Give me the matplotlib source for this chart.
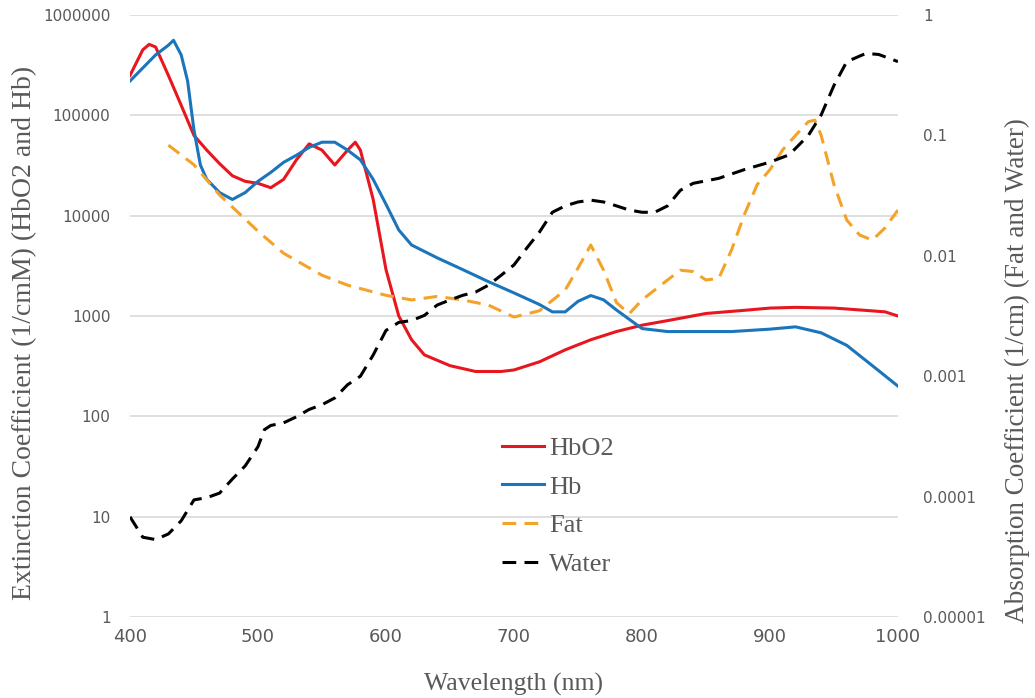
import numpy as np
import matplotlib.pyplot as plt
from matplotlib.ticker import FixedLocator, FixedFormatter

# wavelength (nm) and extinction coefficients
wl_hbo2 = [400, 410, 415, 420, 430, 440, 450, 460, 470, 480, 490, 500, 510, 520, 530, 540, 550,
           560, 570, 576, 580, 590, 600, 610, 620, 630, 650, 670, 690, 700, 720, 740, 760, 780,
           800, 820, 850, 880, 900, 920, 950, 970, 990, 1000]
hbo2 = [2.5e5, 4.5e5, 5.1e5, 4.8e5, 2.5e5, 1.26e5, 6.3e4, 4.5e4, 3.3e4, 2.5e4, 2.2e4, 2.1e4,
        1.9e4, 2.3e4, 3.6e4, 5.2e4, 4.5e4, 3.2e4, 4.5e4, 5.4e4, 4.5e4, 1.45e4, 2.9e3, 1.0e3,
        580, 410, 320, 280, 280, 290, 350, 460, 580, 700, 810, 900, 1060, 1140, 1200, 1220,
        1200, 1150, 1100, 1000]

wl_hb = [400, 420, 430, 434, 440, 445, 450, 455, 460, 470, 480, 490, 500, 510, 520, 530, 540,
         550, 560, 570, 580, 590, 600, 610, 620, 640, 660, 680, 700, 720, 730, 740, 750, 760,
         770, 780, 800, 820, 850, 870, 900, 920, 940, 960, 980, 1000]
hb = [2.2e5, 4.0e5, 5.0e5, 5.6e5, 4.0e5, 2.2e5, 7.1e4, 3.2e4, 2.3e4, 1.7e4, 1.45e4, 1.7e4,
      2.2e4, 2.7e4, 3.4e4, 4.0e4, 4.8e4, 5.4e4, 5.4e4, 4.5e4, 3.6e4, 2.3e4, 1.3e4, 7.2e3,
      5.1e3, 3.8e3, 2.9e3, 2.2e3, 1.7e3, 1.3e3, 1.1e3, 1.1e3, 1.4e3, 1.6e3, 1.45e3, 1.15e3,
      750, 700, 700, 700, 740, 780, 680, 510, 320, 200]

# absorption coefficients (1/cm)
wl_fat = [430, 450, 470, 500, 520, 550, 570, 600, 620, 640, 660, 680, 700, 720, 740, 750, 760,
          770, 780, 790, 800, 820, 830, 840, 850, 860, 870, 880, 890, 900, 910, 920, 930, 935,
          940, 950, 960, 970, 980, 990, 1000]
fat = [0.083, 0.057, 0.032, 0.016, 0.0105, 0.0069, 0.0057, 0.0047, 0.0043, 0.0046, 0.0043,
       0.0039, 0.0031, 0.0035, 0.0052, 0.0079, 0.0123, 0.0076, 0.0041, 0.0033, 0.0043, 0.0063,
       0.0076, 0.0074, 0.0063, 0.0065, 0.0112, 0.022, 0.039, 0.052, 0.076, 0.10, 0.13, 0.134,
       0.10, 0.039, 0.0198, 0.0149, 0.0135, 0.0171, 0.024]

wl_water = [400, 410, 420, 430, 440, 450, 460, 470, 480, 490, 500, 505, 510, 520, 530, 540, 550,
            560, 570, 580, 590, 600, 610, 620, 630, 640, 650, 660, 670, 680, 690, 700, 710, 720,
            730, 740, 750, 760, 770, 780, 790, 800, 810, 820, 830, 840, 860, 880, 900, 915, 930,
            940, 950, 960, 975, 985, 1000]
water = [6.8e-5, 4.6e-5, 4.4e-5, 4.9e-5, 6.3e-5, 9.4e-5, 9.8e-5, 1.07e-4, 1.4e-4, 1.8e-4,
         2.6e-4, 3.6e-4, 3.9e-4, 4.1e-4, 4.6e-4, 5.3e-4, 5.8e-4, 6.6e-4, 8.5e-4, 1.0e-3, 1.5e-3,
         2.4e-3, 2.8e-3, 2.9e-3, 3.2e-3, 3.9e-3, 4.3e-3, 4.7e-3, 5.0e-3, 5.7e-3, 6.9e-3, 8.4e-3,
         0.0116, 0.0158, 0.023, 0.026, 0.028, 0.029, 0.028, 0.026, 0.024, 0.023, 0.023, 0.026,
         0.035, 0.040, 0.044, 0.052, 0.060, 0.069, 0.10, 0.148, 0.26, 0.41, 0.48, 0.47, 0.41]

left_ticks = [1, 10, 100, 1000, 10000, 100000, 1000000]
left_labels = ['1', '10', '100', '1000', '10000', '100000', '1000000']
right_ticks = [1e-5, 1e-4, 1e-3, 1e-2, 1e-1, 1]
right_labels = ['0.00001', '0.0001', '0.001', '0.01', '0.1', '1']
x_ticks = [400, 500, 600, 700, 800, 900, 1000]

gray = '#595959'
serif = 'Liberation Serif'
dash = (0, (4.5, 2.7))

fig = plt.figure(figsize=(10.35, 6.98), dpi=100)
ax = fig.add_axes([0.1256, 0.116, 0.742, 0.8625])
ax2 = ax.twinx()

l1, = ax.plot(wl_hbo2, hbo2, color='#e8161e', lw=2.2, label='HbO2')
l2, = ax.plot(wl_hb, hb, color='#1b75bb', lw=2.2, label='Hb')
l3, = ax2.plot(wl_fat, fat, color='#f4a32a', lw=2.2, ls=dash, label='Fat')
l4, = ax2.plot(wl_water, water, color='black', lw=2.2, ls=dash, label='Water')

ax.set_yscale('log')
ax.set_ylim(1, 1e6)
ax.set_xlim(400, 1000)
ax.yaxis.set_major_locator(FixedLocator(left_ticks))
ax.yaxis.set_major_formatter(FixedFormatter(left_labels))
ax.yaxis.set_minor_locator(FixedLocator([]))
ax.set_xticks(x_ticks)
ax.grid(axis='y', color='#d9d9d9', lw=1.2)
ax.set_axisbelow(True)

ax2.set_yscale('log')
ax2.set_ylim(1e-5, 1)
ax2.yaxis.set_major_locator(FixedLocator(right_ticks))
ax2.yaxis.set_major_formatter(FixedFormatter(right_labels))
ax2.yaxis.set_minor_locator(FixedLocator([]))

for a in (ax, ax2):
    for s in a.spines.values():
        s.set_visible(False)
    a.tick_params(length=0, colors=gray)
ax.tick_params(axis='y', labelsize=11, pad=14)
ax.tick_params(axis='x', labelsize=13, pad=8)
ax2.tick_params(axis='y', labelsize=11, pad=18)

ax.set_xlabel('Wavelength (nm)', family=serif, fontsize=18.5, color=gray)
ax.xaxis.set_label_coords(0.5, -0.093)
ax.set_ylabel('Extinction Coefficient (1/cmM) (HbO2 and Hb)', family=serif, fontsize=20,
              color=gray)
ax.yaxis.set_label_coords(-0.121, 0.472)
ax2.set_ylabel('Absorption Coefficient (1/cm) (Fat and Water)', family=serif, fontsize=19.5,
               color=gray)
ax2.yaxis.set_label_coords(1.139, 0.41)

ax2.legend(handles=[l1, l2, l3, l4], loc='center left', bbox_to_anchor=(0.484, 0.184),
           frameon=False, prop={'family': serif, 'size': 19}, labelcolor=gray,
           handlelength=1.6, handletextpad=0.2, labelspacing=0.58,
           borderpad=0, borderaxespad=0)

fig.savefig('out.png', dpi=100)
